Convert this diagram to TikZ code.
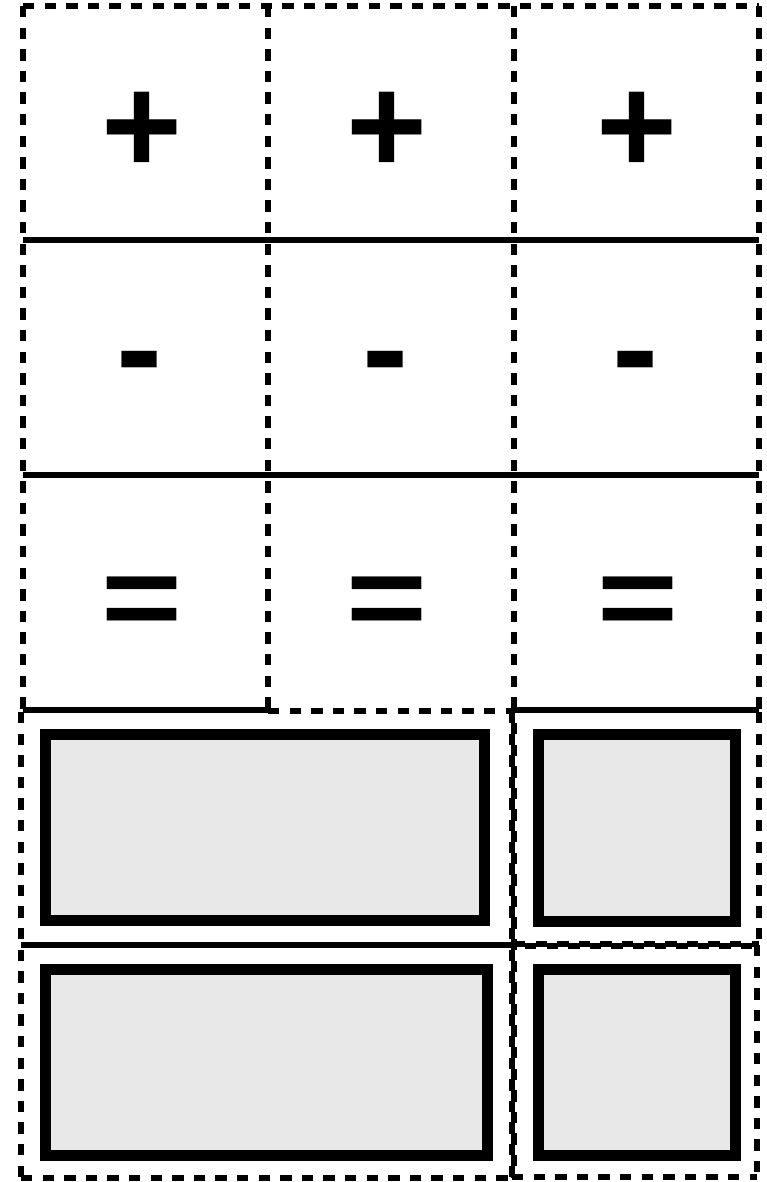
\documentclass[tikz,border=0pt]{standalone}
\usepackage{fontspec}
\setmainfont{Liberation Sans}
\definecolor{boxgray}{HTML}{E8E8E8}
\begin{document}
\begin{tikzpicture}[x=0.75pt,y=-0.75pt,
  dashline/.style={line width=4.2pt, dash pattern=on 8.6pt off 7.6pt},
  dashlineB/.style={line width=4.2pt, dash pattern=on 8.6pt off 7.6pt, dash phase=8pt},
  fullline/.style={line width=4.2pt},
  graybox/.style={draw=black, line width=8.4pt, fill=boxgray},
  sym/.style={font=\fontsize{104}{104}\selectfont\bfseries, inner sep=0pt}]
\useasboundingbox (0,0) rectangle (767,1182);
% ---- rows 1-3 grid ----
\draw[dashline] (23,6) -- (759,6);
\draw[dashline] (23,6) -- (23,710);
\draw[dashline] (268,6) -- (268,710);
\draw[dashline] (514,6) -- (514,710);
\draw[dashline] (759,6) -- (759,710);
\draw[fullline] (23,240) -- (759,240);
\draw[fullline] (23,475) -- (759,475);
\draw[fullline] (23,710) -- (268,710);
\draw[dashline] (268,711) -- (514,711);
\draw[fullline] (514,710) -- (759,710);
% ---- rows 4-5 ----
\draw[dashline] (21,712) -- (21,1178);
\draw[dashline] (21,1178) -- (512,1178);
\draw[dashline] (512,1177) -- (757,1177);
\draw[dashline] (512,712) -- (512,1178);
\draw[dashlineB] (514,712) -- (514,1178);
\draw[dashline] (759,712) -- (759,945);
\draw[dashline] (757,945) -- (757,1177);
\draw[fullline] (21,945) -- (512,945);
\draw[dashline] (514,944) -- (759,944);
\draw[dashlineB] (514,946) -- (759,946);
% ---- gray boxes (outer edges as in the reference) ----
\draw[graybox] (45.6,734.6) rectangle (484.4,920.4);
\draw[graybox] (538.6,734.6) rectangle (735.4,921.4);
\draw[graybox] (45.6,969.6) rectangle (487.4,1155.4);
\draw[graybox] (538.6,969.6) rectangle (735.4,1155.4);
% ---- symbols ----
\node[sym] (p1) at (142,133) {+};
\node[sym] (p2) at (387,133) {+};
\node[sym] (p3) at (637,133) {+};
\node[sym] (m1) at (140,373) {-};
\node[sym] (m2) at (386,373) {-};
\node[sym] (m3) at (636,373) {-};
\node[sym] (e1) at (142,607) {\scalebox{1}[0.84]{=}};
\node[sym] (e2) at (387,607) {\scalebox{1}[0.84]{=}};
\node[sym] (e3) at (638,607) {\scalebox{1}[0.84]{=}};
\end{tikzpicture}
\end{document}
